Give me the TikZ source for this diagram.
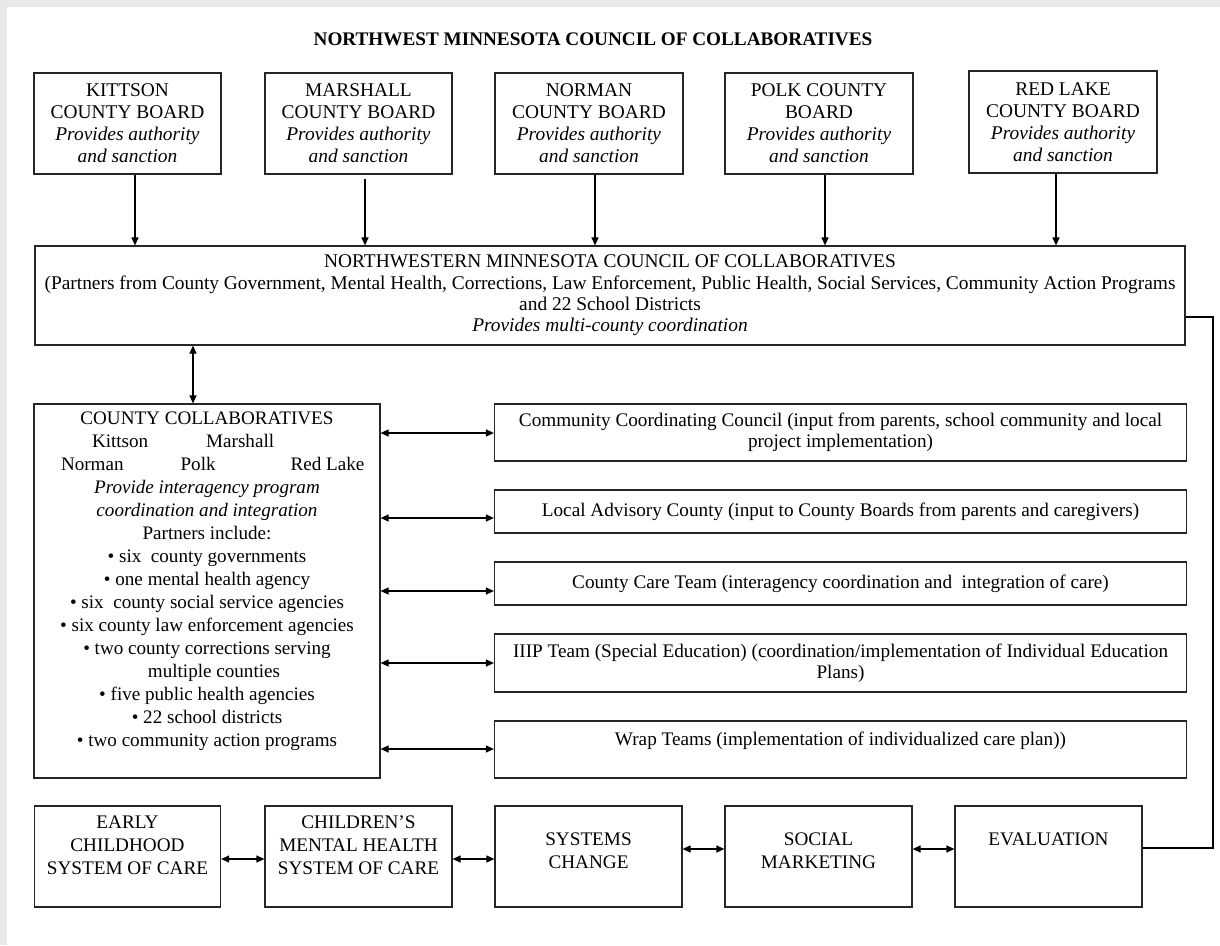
\documentclass[tikz,border=0pt]{standalone}
\usepackage{fontspec}
\setmainfont{Liberation Serif}
\usetikzlibrary{arrows.meta}
\begin{document}
\begin{tikzpicture}[x=1pt,y=-1pt,
  bx/.style={draw=black!85, line width=1.2pt, align=center, inner sep=0pt, font=\fontsize{19.4}{22}\selectfont},
  topbox/.style={bx, minimum width=187pt, minimum height=101pt},
  rbox/.style={bx, minimum width=692pt, font=\fontsize{19.2}{21}\selectfont},
  botbox/.style={bx, minimum width=187pt, minimum height=101pt, font=\fontsize{19.2}{23}\selectfont},
  tip/.tip={Triangle[length=8pt,width=7pt]},
  arr/.style={line width=1.2pt, -tip},
  dbl/.style={line width=1.2pt, tip-tip},
  conn/.style={line width=1.2pt}
]
\fill[black!9] (0,0) rectangle (1220,945);
\fill[white] (7,7) rectangle (1220,945);
\useasboundingbox (0,0) rectangle (1220,945);

\node[font=\fontsize{19.2}{21}\selectfont\bfseries] (title) at (593,39) {NORTHWEST MINNESOTA COUNCIL OF COLLABORATIVES};

\node[topbox] (k) at (127.5,123.5) {KITTSON\\COUNTY BOARD\\\textit{Provides authority}\\\textit{and sanction}};
\node[topbox] (m) at (358.5,123.5) {MARSHALL\\COUNTY BOARD\\\textit{Provides authority}\\\textit{and sanction}};
\node[topbox, minimum width=188pt] (n) at (589,123.5) {NORMAN\\COUNTY BOARD\\\textit{Provides authority}\\\textit{and sanction}};
\node[topbox, minimum width=188pt] (p) at (819,123.5) {POLK COUNTY\\BOARD\\\textit{Provides authority}\\\textit{and sanction}};
\node[topbox, minimum width=188pt, minimum height=102pt] (r) at (1063,122) {RED LAKE\\COUNTY BOARD\\\textit{Provides authority}\\\textit{and sanction}};

\node[bx, minimum width=1150pt, minimum height=99pt, font=\fontsize{19.4}{21.3}\selectfont] (main) at (610,295.5)
  {NORTHWESTERN MINNESOTA COUNCIL OF COLLABORATIVES\\
   (Partners from County Government, Mental Health, Corrections, Law Enforcement, Public Health, Social Services, Community Action Programs\\
   and 22 School Districts\\
   \textit{Provides multi-county coordination}};

\node[bx, minimum width=346pt, minimum height=374pt, font=\fontsize{19.1}{23}\selectfont] (collab) at (207,591)
  {COUNTY COLLABORATIVES\\
   \makebox[300pt][l]{\hspace*{35pt}Kittson\hspace*{58pt}Marshall}\\
   \makebox[300pt][l]{\hspace*{4pt}Norman\hspace*{57pt}Polk\hspace*{75pt}Red Lake}\\
   \textit{Provide interagency program}\\
   \textit{coordination and integration}\\
   Partners include:\\
   • six~ county governments\\
   • one mental health agency\\
   • six~ county social service agencies\\
   • six county law enforcement agencies\\
   • two county corrections serving\\
   \hspace*{14pt}multiple counties\\
   • five public health agencies\\
   • 22 school districts\\
   • two community action programs\\
   \mbox{}};

\node[rbox, minimum height=57pt] (c1) at (840.5,432.5) {Community Coordinating Council (input from parents, school community and local\\project implementation)};
\node[rbox, minimum height=43pt] (c2) at (840.5,511.5) {Local Advisory County (input to County Boards from parents and caregivers)};
\node[rbox, minimum height=43pt] (c3) at (840.5,583.5) {County Care Team (interagency coordination and~ integration of care)};
\node[rbox, minimum height=58pt] (c4) at (840.5,663) {IIIP Team (Special Education) (coordination/implementation of Individual Education\\Plans)};
\node[rbox, minimum height=57pt] (c5) at (840.5,749.5) {Wrap Teams (implementation of individualized care plan))\\\mbox{}};

\node[botbox, minimum width=186pt] (e1) at (127.5,856.5) {EARLY\\CHILDHOOD\\SYSTEM OF CARE\\\mbox{}};
\node[botbox] (e2) at (358.5,856.5) {CHILDREN’S\\MENTAL HEALTH\\SYSTEM OF CARE\\\mbox{}};
\node[botbox] (e3) at (588.5,856.5) {\mbox{}\\SYSTEMS\\CHANGE\\\mbox{}};
\node[botbox] (e4) at (818.5,856.5) {\mbox{}\\SOCIAL\\MARKETING\\\mbox{}};
\node[botbox] (e5) at (1048.5,856.5) {\mbox{}\\EVALUATION\\\mbox{}\\\mbox{}};

% board arrows
\coordinate (xk) at (135,0);
\coordinate (xm) at (365,0);
\coordinate (xn) at (595,0);
\coordinate (xp) at (825,0);
\coordinate (xr) at (1056,0);
\draw[arr] (k.south -| xk) -- (main.north -| xk);
\draw[arr] ([yshift=-4pt]m.south -| xm) -- (main.north -| xm);
\draw[arr] (n.south -| xn) -- (main.north -| xn);
\draw[arr] (p.south -| xp) -- (main.north -| xp);
\draw[arr] (r.south -| xr) -- (main.north -| xr);

% main <-> collab
\coordinate (xc) at (193,0);
\draw[dbl] (main.south -| xc) -- (collab.north -| xc);

% collab <-> right boxes
\coordinate (y1) at (0,433);
\coordinate (y2) at (0,518);
\coordinate (y3) at (0,591);
\coordinate (y4) at (0,663);
\coordinate (y5) at (0,749);
\draw[dbl] (collab.east |- y1) -- (c1.west |- y1);
\draw[dbl] (collab.east |- y2) -- (c2.west |- y2);
\draw[dbl] (collab.east |- y3) -- (c3.west |- y3);
\draw[dbl] (collab.east |- y4) -- (c4.west |- y4);
\draw[dbl] (collab.east |- y5) -- (c5.west |- y5);

% bottom row
\coordinate (yb1) at (0,859);
\coordinate (yb2) at (0,849);
\draw[dbl] (e1.east |- yb1) -- (e2.west |- yb1);
\draw[dbl] (e2.east |- yb1) -- (e3.west |- yb1);
\draw[dbl] (e3.east |- yb2) -- (e4.west |- yb2);
\draw[dbl] (e4.east |- yb2) -- (e5.west |- yb2);

% main -> evaluation connector
\coordinate (cA) at (1213,317);
\coordinate (cB) at (1213,848);
\draw[conn] (main.east |- cA) -- (cA) -- (cB) -- (e5.east |- cB);
\end{tikzpicture}
\end{document}
